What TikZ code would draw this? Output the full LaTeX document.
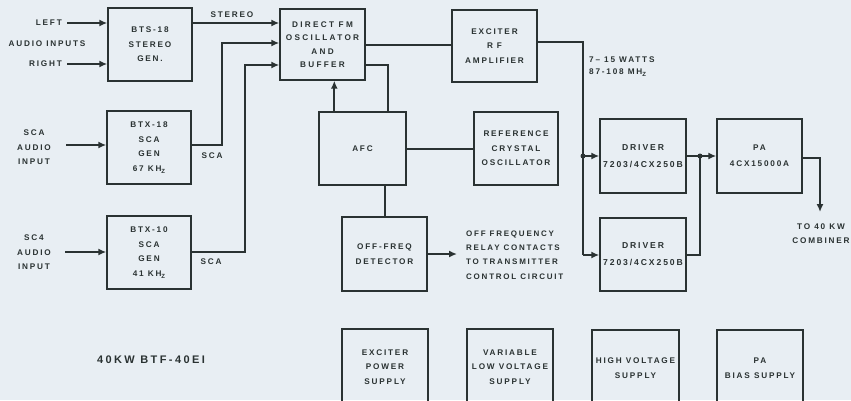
\documentclass[tikz,border=0pt]{standalone}
\usepackage{fontspec}
\setmainfont{Liberation Sans}[LetterSpace=22]
\usetikzlibrary{arrows.meta,calc}
\definecolor{bg}{HTML}{E8EEF3}
\definecolor{ink}{HTML}{2A3232}
\newcommand\bxfont{\fontsize{8.2}{14.5}\selectfont\bfseries}
\newcommand\zsub{\raisebox{-2pt}{\fontsize{6}{6}\selectfont Z}}
\begin{document}
\begin{tikzpicture}[x=1pt,y=-1pt,
  box/.style={draw=ink, line width=1.4pt, inner sep=0pt, align=center,
    font=\bxfont, text=ink, minimum width=85pt, minimum height=73pt},
  lab/.style={inner sep=0pt, align=center, font=\bxfont, text=ink},
  conn/.style={draw=ink, line width=2pt},
  arr/.style={conn, -{Latex[length=8pt,width=7pt]}}]
\useasboundingbox[fill=bg] (0,0) rectangle (851,400);

% boxes
\node[box, minimum width=84pt] (bts) at (150,44.5) {BTS-18\\STEREO\\GEN.};
\node[box, minimum height=71pt, font=\fontsize{8.2}{13.5}\selectfont\bfseries\addfontfeatures{LetterSpace=28}] (dfm) at (322.5,44.5) {DIRECT FM\\OSCILLATOR\\AND\\BUFFER};
\node[box, minimum height=72pt] (exc) at (494.5,46) {EXCITER\\R F\\AMPLIFIER};
\node[box, minimum width=84pt] (sca1) at (149,147.5) {BTX-18\\SCA\\GEN\\67 KH\zsub};
\node[box, minimum width=84pt] (sca2) at (149,252.5) {BTX-10\\SCA\\GEN\\41 KH\zsub};
\node[box, minimum width=87pt] (afc) at (362.5,148.5) {AFC};
\node[box, minimum width=84pt] (ref) at (516,148.5) {REFERENCE\\CRYSTAL\\OSCILLATOR};
\node[box, minimum height=74pt] (off) at (384.5,254) {OFF-FREQ\\DETECTOR};
\node[box, minimum width=86pt, minimum height=74pt, font=\fontsize{8.6}{17}\selectfont\bfseries] (drv1) at (643,156) {DRIVER\\7203/4CX250B};
\node[box, minimum width=86pt, font=\fontsize{8.6}{17}\selectfont\bfseries] (drv2) at (643,254.5) {DRIVER\\7203/4CX250B};
\node[box, minimum height=74pt, font=\fontsize{8.2}{16}\selectfont\bfseries] (pa) at (759.5,156) {PA\\4CX15000A};
\node[box, minimum width=86pt, minimum height=76pt] (eps) at (385,367) {EXCITER\\POWER\\SUPPLY};
\node[box, minimum width=86pt, minimum height=76pt] (vlv) at (510,367) {VARIABLE\\LOW VOLTAGE\\SUPPLY};
\node[box, minimum width=87pt, minimum height=76pt] (hvs) at (635.5,368) {HIGH VOLTAGE\\SUPPLY};
\node[box, minimum width=86pt, minimum height=76pt] (pab) at (760,368) {PA\\BIAS SUPPLY};

% labels
\node[lab, anchor=east] (lft) at (62,23) {LEFT};
\node[lab] (ai) at (47,44) {AUDIO INPUTS};
\node[lab, anchor=east] (rgt) at (62,64) {RIGHT};
\node[lab] (st) at (232,15) {STEREO};
\node[lab] (sa1) at (34,147.5) {SCA\\AUDIO\\INPUT};
\node[lab] (sa2) at (34,252.5) {SC4\\AUDIO\\INPUT};
\node[lab] (sl1) at (212,156) {SCA};
\node[lab] (sl2) at (211,262) {SCA};
\node[lab, anchor=west, align=left, font=\fontsize{8.2}{12}\selectfont\bfseries] (wt) at (589,67) {7-- 15 WATTS\\87-108 MH\zsub};
\node[lab, anchor=west, align=left, font=\fontsize{8}{14.3}\selectfont\bfseries] (oft) at (466,255) {OFF FREQUENCY\\RELAY CONTACTS\\TO TRANSMITTER\\CONTROL CIRCUIT};
\node[lab] (comb) at (821,233.5) {TO 40 KW\\COMBINER};
\node[lab, font=\fontsize{11}{12}\selectfont\bfseries] (ttl) at (151,360) {40KW BTF-40EI};

% coordinates
\coordinate (s1in) at (66,145);
\coordinate (s2in) at (65,252);
\coordinate (v1) at (222,43);
\coordinate (v2) at (245,65);
\coordinate (bus) at (583,255);
\coordinate (jn) at (700,156);
\coordinate (cb) at (820,212);

% inputs
\draw[arr] ([xshift=5pt]lft.east) -- (lft -| bts.west);
\draw[arr] ([xshift=5pt]rgt.east) -- (rgt -| bts.west);
\draw[arr] (s1in) -- (s1in -| sca1.west);
\draw[arr] (s2in) -- (s2in -| sca2.west);

% into oscillator
\draw[arr] (lft -| bts.east) -- (lft -| dfm.west);
\draw[arr] (s1in -| sca1.east) -| (v1) -- (v1 -| dfm.west);
\draw[arr] (s2in -| sca2.east) -| (v2) -- (v2 -| dfm.west);

% oscillator chain
\draw[conn] (dfm.east) -- (dfm.east -| exc.west);
\draw[conn] (v2 -| dfm.east) -| ([xshift=-19pt]afc.north east);
\draw[arr] ([xshift=16pt]afc.north west) -- ([xshift=16pt]afc.north west |- dfm.south);
\draw[conn] (afc.east) -- (afc.east -| ref.west);
\draw[conn] (off.north) -- (off.north |- afc.south);
\draw[arr] (off.east) -- ([xshift=-9pt]off.east -| oft.west);

% RF chain
\draw[conn] ([yshift=4pt]exc.east) -| (bus);
\draw[arr] (bus) -- (bus -| drv2.west);
\draw[arr] (bus |- drv1.west) -- (drv1.west);
\fill[ink] (bus |- drv1.west) circle (2.5pt);
\draw[arr] (drv1.east) -- (pa.west);
\draw[conn] (drv2.east) -| (jn);
\fill[ink] (jn) circle (2.5pt);
\draw[arr] ([yshift=-2pt]pa.east) -| (cb);
\end{tikzpicture}
\end{document}
